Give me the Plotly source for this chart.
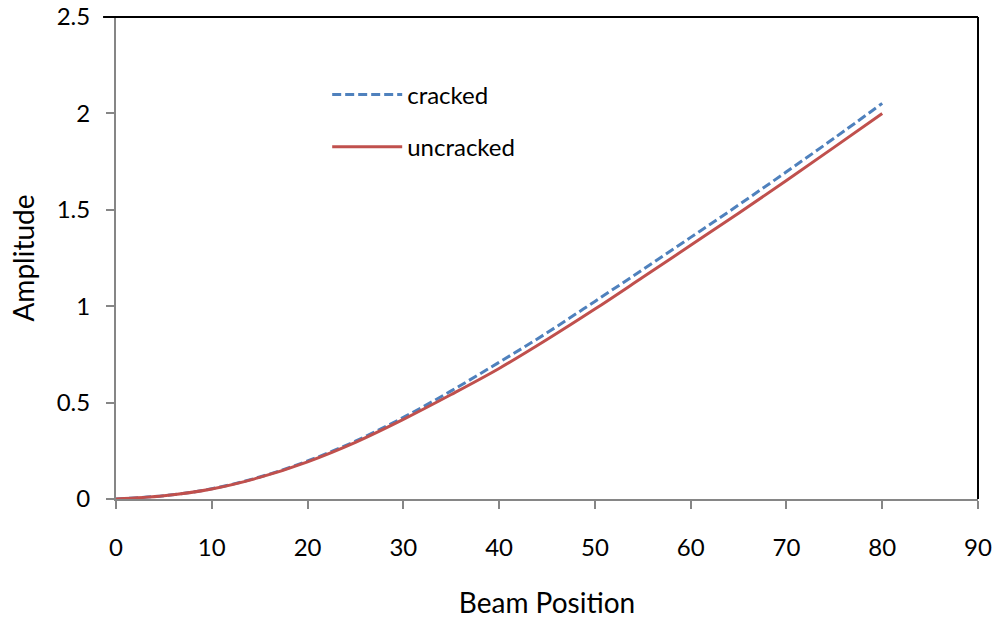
import plotly.graph_objects as go

beam_position = [0, 5, 10, 15, 20, 25, 30, 35, 40, 45, 50, 55, 60, 65, 70, 75, 80]
cracked = [0, 0.017, 0.053, 0.114, 0.197, 0.300, 0.423, 0.561, 0.709, 0.862, 1.025,
           1.19, 1.357, 1.525, 1.697, 1.872, 2.052]
uncracked = [0, 0.017, 0.052, 0.112, 0.193, 0.294, 0.413, 0.542, 0.677, 0.827, 0.985,
             1.15, 1.316, 1.482, 1.652, 1.825, 2.0]

x_ticks = [0, 10, 20, 30, 40, 50, 60, 70, 80, 90]
y_ticks = [0, 0.5, 1, 1.5, 2, 2.5]
y_tick_labels = ["0", "0.5", "1", "1.5", "2", "2.5"]

FONT = "Lato"
BLUE = "#4F81BD"
RED = "#C0504D"
GRAY = "#868686"

fig = go.Figure()
fig.add_trace(go.Scatter(x=beam_position, y=cracked, mode="lines", name="cracked",
                         line=dict(color=BLUE, width=3, dash="9px,4px", shape="spline"),
                         legendgroup="a"))
fig.add_trace(go.Scatter(x=beam_position, y=uncracked, mode="lines", name="uncracked",
                         line=dict(color=RED, width=3, shape="spline"),
                         legendgroup="b"))

fig.update_layout(
    width=1002, height=622,
    margin=dict(l=116, r=24, t=17, b=123),
    paper_bgcolor="white", plot_bgcolor="white",
    font=dict(family=FONT, size=24, color="black"),
    showlegend=True,
    legend=dict(x=0.245, y=0.885, xanchor="left", yanchor="top",
                bgcolor="rgba(0,0,0,0)", itemwidth=70, tracegroupgap=18,
                font=dict(family=FONT, size=24)),
    xaxis=dict(range=[0, 90], tickvals=x_ticks, showgrid=False, zeroline=False,
               automargin=False,
               showline=True, linecolor=GRAY, linewidth=2,
               ticks="outside", ticklen=8, tickcolor=GRAY, tickwidth=2,
               ticklabelstandoff=18, tickfont=dict(size=24),
               title=dict(text="Beam Position", font=dict(size=28), standoff=34)),
    yaxis=dict(range=[0, 2.5], tickvals=y_ticks, ticktext=y_tick_labels,
               showgrid=False, zeroline=False, automargin=False,
               showline=True, linecolor=GRAY, linewidth=2,
               ticks="outside", ticklen=8, tickcolor=GRAY, tickwidth=2,
               ticklabelstandoff=11, tickfont=dict(size=24),
               title=dict(text="Amplitude", font=dict(size=28), standoff=14)),
)

# top and right plot-area border (black)
fig.add_shape(type="line", xref="paper", yref="paper", x0=-0.015, x1=1, y0=1, y1=1,
              line=dict(color="black", width=2))
fig.add_shape(type="line", xref="paper", yref="paper", x0=1, x1=1, y0=0, y1=1,
              line=dict(color="black", width=2))

fig.write_html("out.html")
